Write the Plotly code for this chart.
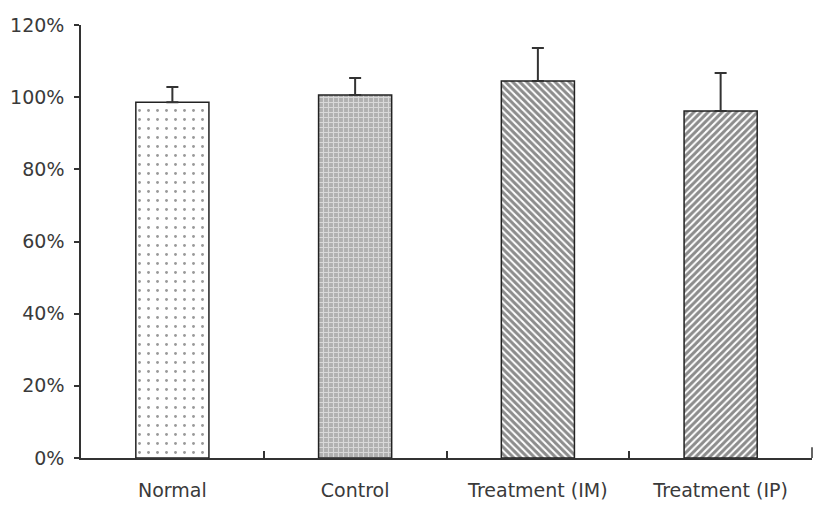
import plotly.graph_objects as go

categories = ["Normal", "Control", "Treatment (IM)", "Treatment (IP)"]
values = [98.6, 100.6, 104.5, 96.2]
errors = [4.2, 4.7, 9.1, 10.5]
y_ticks = [0, 20, 40, 60, 80, 100, 120]
y_tick_labels = ["0%", "20%", "40%", "60%", "80%", "100%", "120%"]

fig = go.Figure()
fig.add_trace(go.Bar(
    x=categories, y=values,
    width=0.4,
    marker=dict(
        color="white",
        line=dict(color="#222222", width=1.5),
        pattern=dict(
            shape=[".", "+", "\\", "/"],
            fgcolor=["#333333", "white", "#1a1a1a", "#1a1a1a"],
            bgcolor=["white", "#b0b0b0", "white", "white"],
            size=[9, 5, 5, 5],
            solidity=[0.08, 0.4, 0.6, 0.6],
        ),
    ),
    error_y=dict(type="data", array=errors, arrayminus=[0, 0, 0, 0],
                 symmetric=False, color="#333333", thickness=2, width=6),
    showlegend=False,
))

font = dict(family="DejaVu Sans, sans-serif", size=19, color="#3a3a3a")
# page body adds an 8px offset, margins compensate for it
fig.update_layout(
    width=827, height=524,
    margin=dict(l=73, r=23, t=17, b=74),
    plot_bgcolor="white", paper_bgcolor="white",
    font=font,
    bargap=0.6,
)
fig.update_yaxes(
    range=[0, 120], tickvals=y_ticks, ticktext=y_tick_labels,
    showline=True, linecolor="#333333", linewidth=1.5,
    ticks="outside", ticklen=5, tickcolor="#333333", tickwidth=1.5,
    showgrid=False, zeroline=False, ticklabelstandoff=6, automargin=False,
)
fig.update_xaxes(
    showline=True, linecolor="#333333", linewidth=1.5,
    ticks="inside", tickson="boundaries", ticklen=7, tickcolor="#333333", tickwidth=1.5,
    showgrid=False, ticklabelstandoff=14, automargin=False,
)
fig.add_shape(type="line", xref="paper", yref="y", x0=1, x1=1, y0=0, y1=3,
              line=dict(color="#333333", width=1.5))

fig.write_html("out.html")
